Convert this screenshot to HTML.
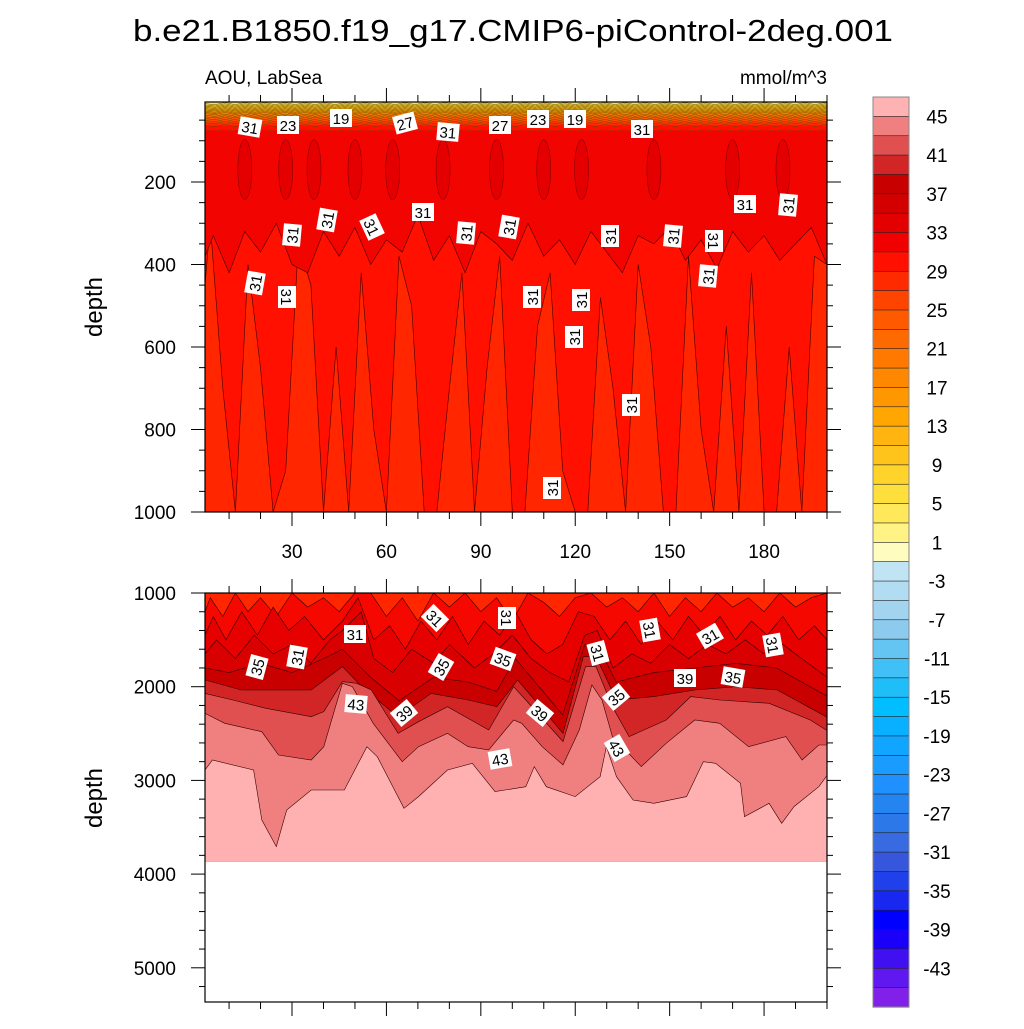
<!DOCTYPE html>
<html><head><meta charset="utf-8"><style>
body{margin:0;background:#fff}
svg text{font-family:"Liberation Sans",sans-serif}
</style></head><body>
<svg id="chart" width="1024" height="1024" viewBox="0 0 1024 1024" xmlns="http://www.w3.org/2000/svg">
<text x="513" y="41" font-size="31" text-anchor="middle" textLength="760" lengthAdjust="spacingAndGlyphs">b.e21.B1850.f19_g17.CMIP6-piControl-2deg.001</text>
<text x="205" y="84" font-size="19">AOU, LabSea</text>
<text x="827" y="84" font-size="19" text-anchor="end">mmol/m^3</text>
<text transform="translate(102,307) rotate(-90)" font-size="24" text-anchor="middle">depth</text>
<text transform="translate(102,798) rotate(-90)" font-size="24" text-anchor="middle">depth</text>
<g id="topPanel"></g>
<g id="botPanel"></g>
<g id="cbar"></g>
<g id="labels"></g>
</svg>
<script>
// ---- data ----
const cbLevels = [45,43,41,39,37,35,33,31,29,27,25,23,21,19,17,15,13,11,9,7,5,3,1,-1,-3,-5,-7,-9,-11,-13,-15,-17,-19,-21,-23,-25,-27,-29,-31,-33,-35,-37,-39,-41,-43,-45];
const cbColors = ["#ffb2b2","#f08080","#e05050","#d22626","#c80000","#d40000","#e20000","#f00000","#ff1000","#ff2a00","#ff4400","#ff5a00","#ff6a00","#ff7800","#ff8800","#ff9800","#ffa600","#ffb410","#ffc41c","#ffd42a","#ffdf3c","#ffe95a","#fff385","#fffcc0",
"#c0e4f4","#b2dcf2","#a2d4f0","#8ccaee","#64c4f2","#40c0f6","#20bef8","#00beff","#08b0ff","#10a6ff","#1a9cff","#2090ff","#2484f0","#2c78e8","#386ae2","#3656dc","#2040ec","#1828f0","#0000ff","#1a00f8","#4010f0","#6018f0","#8020e8"];
const cbLabels = [45,41,37,33,29,25,21,17,13,9,5,1,-3,-7,-11,-15,-19,-23,-27,-31,-35,-39,-43];
const topTicks = [200,400,600,800,1000];
const botTicks = [1000,2000,3000,4000,5000];
const xTicks = [30,60,90,120,150,180];

const surfDepths = [10,13,16,19,22,25,28,31,34,38,42,46,51,56,63,75];
const surfColors = ["#f6e070","#f8e050","#f5d838","#f6cc2a","#f6c020","#f8b414","#faa80c","#fc9a06","#ff8c00","#ff7e00","#ff7000","#ff6200","#ff5200","#ff4000","#ff2a00","#ff1000"];
const t33x = [0,5,10,15,20,25,30,35,40,45,50,55,60,65,70,75,80,85,90,95,100,105,110,115,120,125,130,135,140,145,150,155,160,165,170,175,180,185,190,195,200];
const t33d = [380,330,420,320,370,300,400,420,320,380,310,400,340,370,280,390,330,420,320,350,390,300,380,340,400,320,370,420,330,350,310,390,340,410,320,370,330,390,350,310,400];
const t31x = [0,4,8,12,16,20,24,28,32,36,40,44,48,52,56,60,64,68,72,76,80,84,88,92,96,100,104,108,112,116,120,124,128,132,136,140,144,148,152,156,160,164,168,172,176,180,184,188,192,196,200];
const t31d = [450,300,700,1000,400,650,1000,900,350,450,1000,600,1000,420,800,1000,380,500,1000,1000,700,420,1000,650,380,1000,1000,550,420,900,1000,1000,480,700,1000,400,600,1000,1000,380,800,1000,550,1000,420,1000,1000,600,1000,380,400];
const blobX = [15,28,37,50,62,78,95,110,122,145,170,186];

const b31x = [1,4,8,12,16,20,25,30,35,40,45,50,55,60,65,70,75,80,85,90,95,100,105,110,115,120,125,130,135,140,145,150,155,160,165,170,175,180,185,190,195,200];
const b31d = [1200,1050,1250,1000,1200,1050,1250,1000,1150,1050,1200,1000,1000,1250,1050,1300,1000,1150,1000,1200,1050,1300,1000,1100,1250,1050,1000,1150,1050,1200,1000,1250,1050,1200,1000,1150,1050,1200,1000,1150,1050,1000];
const b33x = [1,5,9,14,19,24,29,34,40,46,51,56,61,66,71,76,81,86,91,96,101,106,111,116,121,126,131,136,141,146,151,156,161,166,171,176,181,186,191,196,200];
const b33d = [1450,1250,1500,1200,1450,1150,1400,1250,1500,1300,1050,1500,1350,1600,1300,1500,1250,1550,1300,1450,1200,1500,1650,1550,1200,1250,1500,1300,1550,1300,1500,1250,1450,1250,1500,1300,1450,1250,1500,1350,1500];
const b35x = [1,6,12,18,24,30,36,42,46,52,56,62,68,75,80,88,94,100,106,112,118,123,127,132,138,144,150,156,162,168,174,180,186,192,200];
const b35d = [1650,1500,1700,1450,1650,1550,1750,1500,1400,1200,1700,1850,1600,1750,1550,1800,1650,1450,1700,1850,1950,1450,1400,1800,1650,1750,1550,1700,1550,1650,1500,1650,1550,1700,1900];
const b37x = [1.4,10,20,30,40,46,55,64,75,86,95,101,116,123,127,133,145,158,171,184,200];
const b37d = [1800,1850,1750,1850,1700,1600,1900,2150,1900,1950,2050,1700,2300,1550,1550,1950,1850,1800,1750,1800,2100];
const b39x = [1.4,13.9,27,36.1,46,53.2,63.7,74.2,86,95.1,101.7,116.1,122.6,126.6,133.1,145,158,171.1,184.2,199.7];
const b39d = [1928,2035,2035,2035,1786,2035,2320,2071,2142,2213,1928,2498,1679,1679,2142,2106,2035,2000,2035,2320];
const b41x = [1.4,11.2,21.7,36.1,40.1,46,50.6,55.2,63.7,70.2,79.4,92.5,100.4,104.3,116.1,123.3,126.6,131.8,137.1,148.9,156.7,165.9,181.6,194.7,199.7];
const b41d = [2071,2142,2231,2320,2266,1946,1964,2035,2498,2373,2213,2462,2000,2142,2586,1786,1786,2213,2533,2355,2106,2142,2177,2355,2462];
const b43x = [1.4,8.6,20.4,25.7,36.1,40.1,46,49.2,55.8,65,70.2,79.4,86,92.5,100.4,103,109.5,116.1,121.3,125.3,128.5,131.8,141,148.9,158,165.9,175.1,186.9,192.1,197.4,199.7];
const b43d = [2284,2391,2480,2729,2782,2640,1964,2000,2391,2800,2640,2498,2640,2675,2355,2391,2640,2835,2462,1982,2142,2533,2853,2604,2355,2391,2640,2533,2782,2622,2622];
const b45x = [2,4.7,17.8,20.4,25,28.3,36.1,46.6,53.8,57.1,65.6,70.2,79.4,87.3,94.5,104.3,107,110.8,120,127.9,129.9,133.1,138.4,145,155.4,160.7,164.6,172.5,173.8,181.6,185.6,189.5,197.4,199.7];
const b45d = [2889,2782,2889,3422,3707,3316,3102,3102,2640,2747,3298,3173,2889,2818,3120,3067,2853,3067,3173,2960,2640,2960,3209,3244,3173,2800,2818,3031,3387,3244,3458,3280,3067,2960];
const bottomDepth = 3870;
const botBands = [
  {x:b31x,d:b31d,c:"#f50800"},{x:b33x,d:b33d,c:"#e60000"},{x:b35x,d:b35d,c:"#d80000"},
  {x:b37x,d:b37d,c:"#c80000"},{x:b39x,d:b39d,c:"#d22626"},{x:b41x,d:b41d,c:"#e05050"},
  {x:b43x,d:b43d,c:"#f08080"},{x:b45x,d:b45d,c:"#ffb0b0"}];

const lblText = ["31","23","19","27","31","27","23","19","31","31","31","31","31","31","31","31","31","31","31","31","31","31","31","31","31","31","31","31",
 "31","31","31","35","31","35","35","31","31","31","31","39","35","43","39","39","35","43","43"];
const lblX = [250,288,341,405,448,500,538,575,642,745,788,327,292,372,423,466,509,610,673,714,708,255,287,532,581,574,631,552,
 435,507,355,257,297,441,503,598,650,710,773,685,733,356,404,540,616,500,617];
const lblY = [127,125,118,123,132,125,119,119,129,204,205,220,235,227,212,233,227,236,236,241,276,283,297,297,300,337,405,488,
 618,618,634,667,657,667,659,653,630,636,645,678,677,704,713,713,697,759,748];
const lblRot = [10,0,0,-15,5,0,0,0,0,0,-85,-80,-85,65,0,-85,-80,-90,-85,90,-85,-80,90,-90,-90,-90,-90,-90,
 45,90,0,-75,-80,-60,20,75,80,-30,80,0,10,5,-40,40,-40,-10,60];

// ---- scales ----
const X0=205, X1=827;
const xs = v => 197.6 + 3.147*v;
const ysTop = d => 99.5 + 0.4125*d;
const ysBot = d => 593 + (d-1000)*0.0937;
const TOP_Y0=102, TOP_Y1=512, BOT_Y0=593, BOT_Y1=1002;
const NS="http://www.w3.org/2000/svg";
const svgRoot=document.getElementById('chart');
function mk(tag, attrs, parent){const e=document.createElementNS(NS,tag);for(const k in attrs)e.setAttribute(k,attrs[k]);parent.appendChild(e);return e;}
function clampX(v){return Math.max(X0,Math.min(X1,v));}

// ---- top panel ----
const topG=document.getElementById('topPanel');
const defs=mk('defs',{},svgRoot);
const clipT=mk('clipPath',{id:'clipT'},defs);
mk('rect',{x:X0,y:TOP_Y0,width:X1-X0,height:TOP_Y1-TOP_Y0},clipT);
const gT=mk('g',{'clip-path':'url(#clipT)'},topG);
let bg=mk('rect',{x:X0,y:TOP_Y0,width:X1-X0,height:TOP_Y1-TOP_Y0,fill:'#ff2600'},gT);


function bandPath(xa,da,ys,ytop){
  const pts=xa.map((x,i)=>`${clampX(xs(x)).toFixed(1)},${ys(da[i]).toFixed(1)}`);
  return `M${X0},${ytop} L${X0},${ys(da[0]).toFixed(1)} L`+pts.join(' L')+` L${X1},${ys(da[da.length-1]).toFixed(1)} L${X1},${ytop} Z`;
}
let p31=mk('path',{d:bandPath(t31x,t31d,ysTop,TOP_Y0),fill:'#ff1000',stroke:'#400',"stroke-width":0.6},gT);


let p33=mk('path',{d:bandPath(t33x,t33d,ysTop,TOP_Y0),fill:'#f20400',stroke:'#400',"stroke-width":0.6},gT);


blobX.forEach(bx=>{
  let e=mk('ellipse',{cx:xs(bx),cy:ysTop(170),rx:7,ry:30,fill:'#e40000',stroke:'#500',"stroke-width":0.4},gT);
  
  
});
for(let i=surfDepths.length-1;i>=0;i--){
  const y=ysTop(surfDepths[i]);
  let r=mk('rect',{x:X0,y:TOP_Y0,width:X1-X0,height:Math.max(0,y-TOP_Y0),fill:surfColors[i]},gT);
  
  
}
for(let i=0;i<surfDepths.length;i++){
  const y=ysTop(surfDepths[i]);
  let d=`M${X0},${y.toFixed(1)}`;
  for(let k=1;k<=63;k++) d+=` L${X0+k*10},${(y+((k%2)?1.2:-1.2)).toFixed(1)}`;
  let l=mk('path',{d:d,fill:'none',stroke:'#6a4a00',"stroke-width":0.5},gT);
  
  
}

// ---- bottom panel ----
const botG=document.getElementById('botPanel');
const clipB=mk('clipPath',{id:'clipB'},defs);
mk('rect',{x:X0,y:BOT_Y0,width:X1-X0,height:ysBot(bottomDepth)-BOT_Y0},clipB);
const gB=mk('g',{'clip-path':'url(#clipB)'},botG);
let bgb=mk('rect',{x:X0,y:BOT_Y0,width:X1-X0,height:BOT_Y1-BOT_Y0,fill:'#ff2600'},gB);


function lowerPath(xa,da){
  const yb=ysBot(bottomDepth)+2;
  const pts=xa.map((x,i)=>`${clampX(xs(x)).toFixed(1)},${ysBot(da[i]).toFixed(1)}`);
  return `M${X0},${yb} L${X0},${ysBot(da[0]).toFixed(1)} L`+pts.join(' L')+` L${X1},${ysBot(da[da.length-1]).toFixed(1)} L${X1},${yb} Z`;
}
botBands.forEach(b=>{
  let p=mk('path',{d:lowerPath(b.x,b.d),fill:b.c,stroke:'#300',"stroke-width":0.6},gB);
  
  
});

// ---- axes ----
function frame(parent,y0,y1,name){
  let r=mk('rect',{x:X0,y:y0,width:X1-X0,height:y1-y0,fill:'none',stroke:'#000',"stroke-width":1.2},parent);
  
  
}
frame(topG,TOP_Y0,TOP_Y1,'top-plot-frame');
frame(botG,BOT_Y0,BOT_Y1,'bottom-plot-frame');
const axG=mk('g',{stroke:'#000',"stroke-width":1},svgRoot);


function ln(x1,y1,x2,y2){mk('line',{x1:x1,y1:y1,x2:x2,y2:y2},axG);}
for(let v=10;v<=200;v+=10){
  const x=xs(v); const L=(v%30===0)?14:7;
  ln(x,TOP_Y0,x,TOP_Y0-L); ln(x,TOP_Y1,x,TOP_Y1+L);
  ln(x,BOT_Y0,x,BOT_Y0-L); ln(x,BOT_Y1,x,BOT_Y1+L);
}
xTicks.forEach(v=>{
  let t=mk('text',{x:xs(v),y:558,"font-size":19,"text-anchor":"middle"},svgRoot);
  t.textContent=v;
  
  
});
for(let d=50;d<=1000;d+=50){
  const y=ysTop(d); if(y<TOP_Y0) continue; const L=(d%200===0)?14:6;
  ln(X0,y,X0-L,y); ln(X1,y,X1+L,y);
}
topTicks.forEach(d=>{
  let t=mk('text',{x:176,y:ysTop(d)+7,"font-size":19,"text-anchor":"end"},svgRoot);
  t.textContent=d;
  
  
});
for(let d=1000;d<=5300;d+=200){
  const y=ysBot(d); const L=(d%1000===0)?14:6;
  ln(X0,y,X0-L,y); ln(X1,y,X1+L,y);
}
botTicks.forEach(d=>{
  let t=mk('text',{x:176,y:ysBot(d)+7,"font-size":19,"text-anchor":"end"},svgRoot);
  t.textContent=d;
  
  
});

// ---- colorbar ----
const cb=document.getElementById('cbar');
const CB_Y0=97, CB_Y1=1007, CBX=873, CBW=36;
const bh=(CB_Y1-CB_Y0)/cbColors.length;
cbColors.forEach((c,i)=>{
  let r=mk('rect',{x:CBX,y:CB_Y0+i*bh,width:CBW,height:bh+0.3,fill:c,stroke:'#222',"stroke-width":0.6},cb);
  
  
});
let cbf=mk('rect',{x:CBX,y:CB_Y0,width:CBW,height:CB_Y1-CB_Y0,fill:'none',stroke:'#888',"stroke-width":1},cb);


cbLabels.forEach(v=>{
  const i=cbLevels.indexOf(v);
  const y=CB_Y0+(i+1)*bh;
  let t=mk('text',{x:937,y:y+7,"font-size":19,"text-anchor":"middle"},cb);
  t.textContent=v;
  
  
});

// ---- contour labels ----
const lg=document.getElementById('labels');
lblText.forEach((s,i)=>{
  const g=mk('g',{transform:`translate(${lblX[i]},${lblY[i]}) rotate(${lblRot[i]})`},lg);
  
  
  mk('rect',{x:-11,y:-9,width:22,height:18,fill:'#fff'},g);
  const t=mk('text',{x:0,y:6,"font-size":15,"text-anchor":"middle"},g);
  t.textContent=s;
});
</script>
</body></html>
